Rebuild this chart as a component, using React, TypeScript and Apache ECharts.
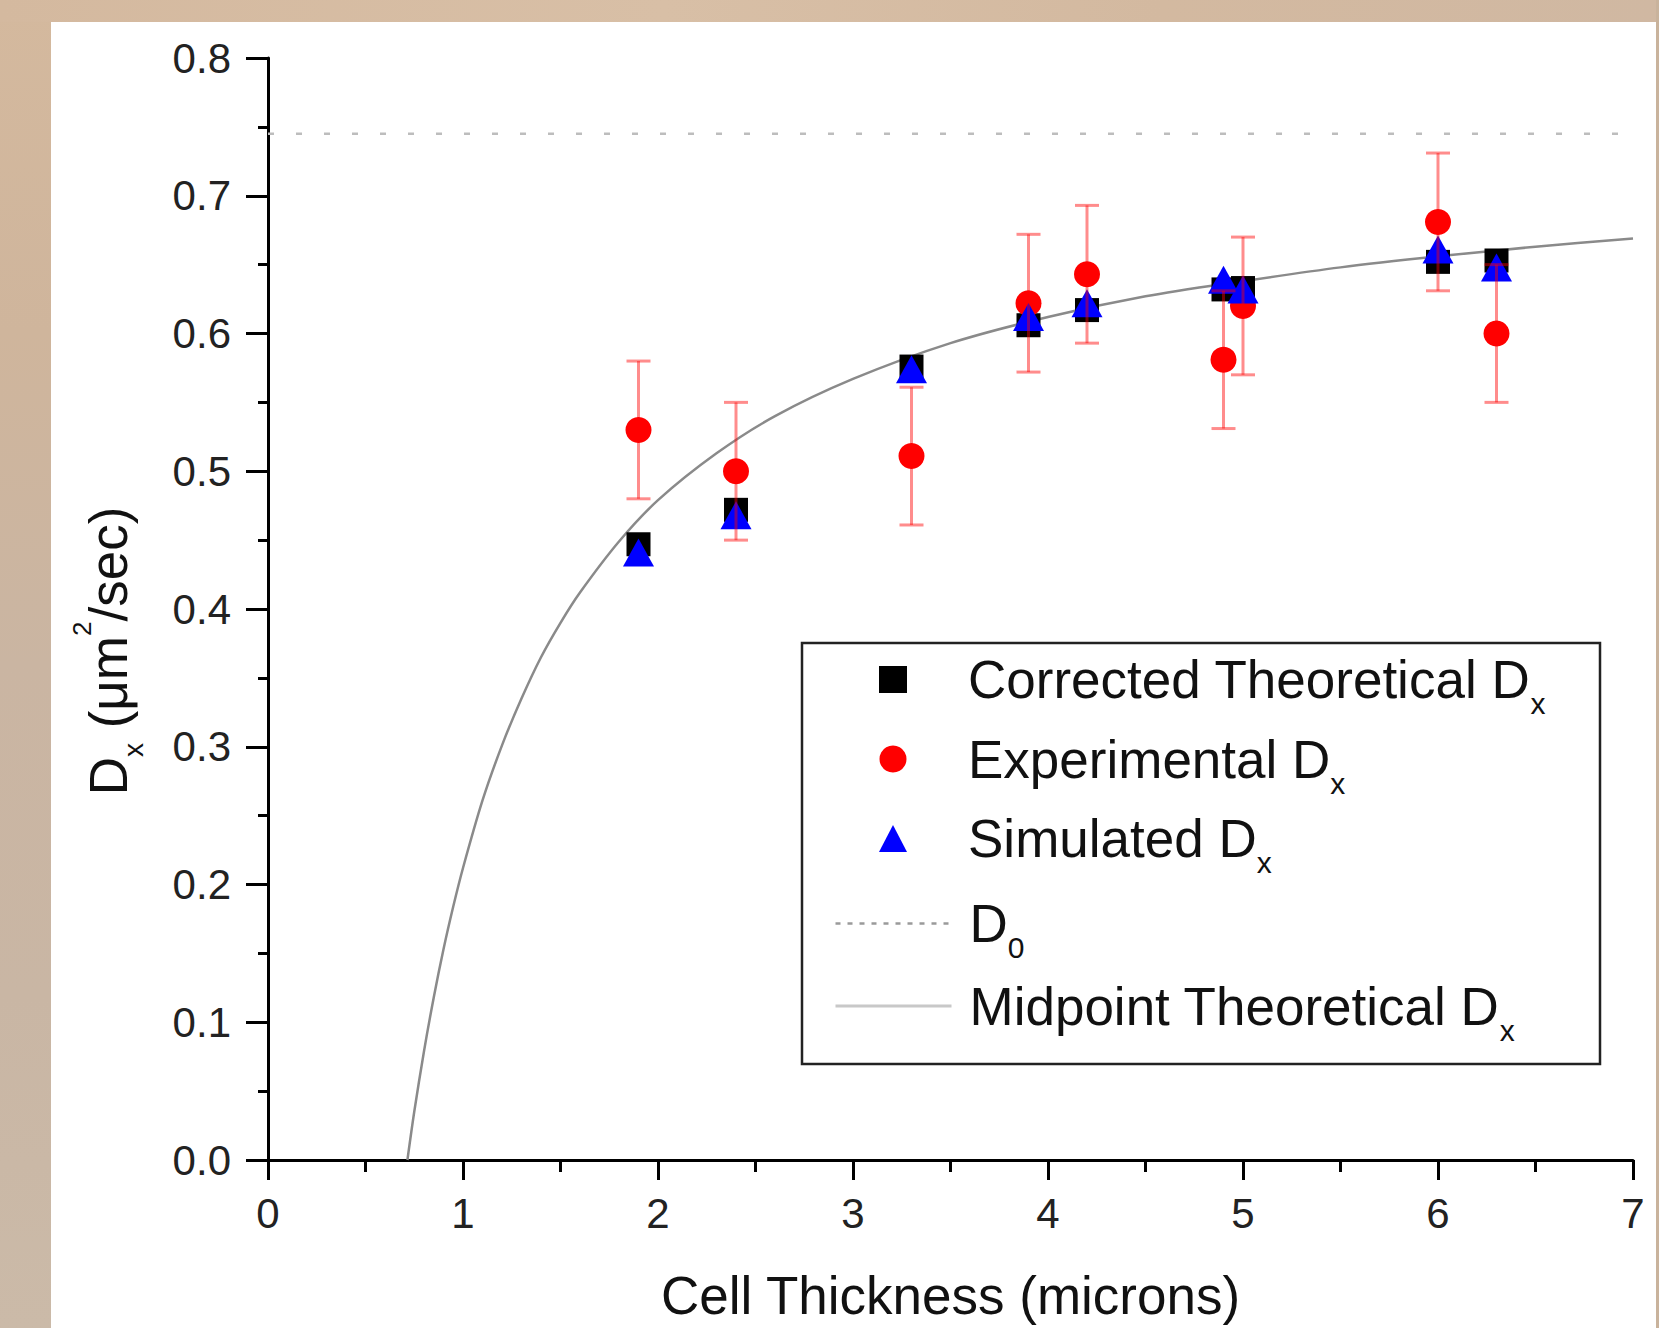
import React, { useEffect, useRef } from 'react';
import * as echarts from 'echarts';

// ---- data ----
const thickness = [1.9, 2.4, 3.3, 3.9, 4.2, 4.9, 5.0, 6.0, 6.3];
const correctedDx = [0.447, 0.472, 0.576, 0.606, 0.617, 0.632, 0.633, 0.652, 0.653];
const experimentalDx = [0.53, 0.5, 0.511, 0.622, 0.643, 0.581, 0.62, 0.681, 0.6];
const experimentalErr = [0.05, 0.05, 0.05, 0.05, 0.05, 0.05, 0.05, 0.05, 0.05];
const simulatedDx = [0.441, 0.468, 0.574, 0.612, 0.622, 0.639, 0.632, 0.661, 0.648];
const d0Value = 0.745;
const d0Range = [0, 7];
const midpointX = [0.715, 0.75, 0.8, 0.85, 0.9, 0.95, 1.0, 1.1, 1.2, 1.3, 1.4, 1.5, 1.6, 1.8, 2.0, 2.3, 2.6, 3.0, 3.5, 4.0, 4.5, 5.0, 5.5, 6.0, 6.5, 7.0];
const midpointY = [0, 0.035, 0.079, 0.118, 0.153, 0.184, 0.212, 0.261, 0.301, 0.335, 0.365, 0.39, 0.412, 0.449, 0.479, 0.513, 0.54, 0.567, 0.593, 0.612, 0.627, 0.638, 0.648, 0.656, 0.663, 0.669];

const seriesNames = [
  'Corrected Theoretical Dx',
  'Experimental Dx',
  'Simulated Dx',
  'D0',
  'Midpoint Theoretical Dx',
];
const legendLabels = [
  'Corrected Theoretical D{sub|x}',
  'Experimental D{sub|x}',
  'Simulated D{sub|x}',
  'D{sub|0}',
  'Midpoint Theoretical D{sub|x}',
];
const xTitle = 'Cell Thickness (microns)';
const yTitle = 'D{sub|x} (μm{sup|2}/sec)';

const FONT = "'Liberation Sans', Arial, Helvetica, sans-serif";

const legendText = (padLeft: number) => ({
  fontFamily: FONT,
  fontSize: 53,
  color: '#111',
  padding: [0, 0, 0, padLeft],
  rich: {
    sub: { fontFamily: FONT, fontSize: 30, color: '#111', padding: [48, 0, 0, 0] },
  },
});

const HIDDEN = 'rgba(0,0,0,0)';

export default function App() {
  const ref = useRef<HTMLDivElement>(null);

  useEffect(() => {
    if (!ref.current) return;
    const chart = echarts.init(ref.current, null, { renderer: 'svg' });

    const pts = (ys: number[]) => thickness.map((x, i) => [x, ys[i]]);
    const fmt = (name: string) => legendLabels[seriesNames.indexOf(name)];

    const option: any = {
      animation: false,
      backgroundColor: '#ffffff',
      textStyle: { fontFamily: FONT },
      graphic: [
        {
          type: 'rect',
          shape: { x: 0, y: 0, width: 51, height: 1328 },
          style: {
            fill: new echarts.graphic.LinearGradient(0, 0, 0, 1, [
              { offset: 0, color: '#d4b99e' },
              { offset: 0.25, color: '#cfb59c' },
              { offset: 0.5, color: '#cab5a2' },
              { offset: 0.75, color: '#c9b6a4' },
              { offset: 1, color: '#cbbaa8' },
            ]),
          },
          silent: true,
        },
        {
          type: 'rect',
          shape: { x: 0, y: 0, width: 1659, height: 22 },
          style: {
            fill: new echarts.graphic.LinearGradient(0, 0, 1, 0, [
              { offset: 0, color: '#d4b99f' },
              { offset: 0.4, color: '#d8bfa6' },
              { offset: 0.7, color: '#d3b9a0' },
              { offset: 1, color: '#d0b8a2' },
            ]),
          },
          silent: true,
        },
        {
          type: 'rect',
          shape: { x: 1656, y: 0, width: 3, height: 1328 },
          style: { fill: '#c9b39c' },
          silent: true,
        },
        {
          type: 'rect',
          shape: { x: 802, y: 643, width: 798, height: 421 },
          style: { fill: 'none', stroke: '#222', lineWidth: 2.5 },
          silent: true,
        },
      ],
      grid: { left: 268, top: 58, width: 1365, height: 1104, containLabel: false },
      legend: [
        {
          orient: 'vertical',
          left: 879,
          top: 653,
          padding: 0,
          itemWidth: 28,
          itemHeight: 27,
          itemGap: 14,
          selectedMode: false,
          formatter: fmt,
          textStyle: legendText(56),
          data: [{ name: seriesNames[0] }, { name: seriesNames[1] }, { name: seriesNames[2] }],
        },
        {
          orient: 'vertical',
          left: 834,
          top: 897,
          padding: 0,
          itemWidth: 116,
          itemHeight: 27,
          itemGap: 17,
          selectedMode: false,
          formatter: fmt,
          textStyle: legendText(13),
          data: [
            {
              name: seriesNames[3],
              itemStyle: { color: HIDDEN, borderColor: HIDDEN, borderWidth: 0 },
              lineStyle: { color: '#9a9a9a', width: 2.5, type: [5, 7] },
            },
            {
              name: seriesNames[4],
              itemStyle: { color: HIDDEN, borderColor: HIDDEN, borderWidth: 0 },
              lineStyle: { color: '#c8c8c8', width: 3 },
            },
          ],
        },
      ],
      xAxis: {
        type: 'value',
        min: 0,
        max: 7,
        interval: 1,
        name: xTitle,
        nameLocation: 'middle',
        nameGap: 107,
        nameTextStyle: { fontFamily: FONT, fontSize: 53, color: '#111', lineHeight: 56 },
        axisLine: { show: true, onZero: false, lineStyle: { color: '#000', width: 3 } },
        axisTick: { show: true, length: 20, lineStyle: { color: '#000', width: 3 } },
        minorTick: { show: true, splitNumber: 2, length: 12, lineStyle: { color: '#000', width: 3 } },
        axisLabel: { fontFamily: FONT, fontSize: 42, color: '#222', margin: 32 },
        splitLine: { show: false },
        minorSplitLine: { show: false },
      },
      yAxis: {
        type: 'value',
        min: 0,
        max: 0.8,
        interval: 0.1,
        name: yTitle,
        nameLocation: 'middle',
        nameRotate: 90,
        nameGap: 132,
        nameTextStyle: {
          fontFamily: FONT,
          fontSize: 53,
          color: '#111',
          lineHeight: 56,
          padding: [0, 84, 0, 0],
          rich: {
            sub: { fontFamily: FONT, fontSize: 28, color: '#111', lineHeight: 56, padding: [50, 0, 0, 0] },
            sup: { fontFamily: FONT, fontSize: 26, color: '#111', lineHeight: 56, padding: [0, 0, 52, 0] },
          },
        },
        axisLine: { show: true, onZero: false, lineStyle: { color: '#000', width: 3 } },
        axisTick: { show: true, length: 22, lineStyle: { color: '#000', width: 3 } },
        minorTick: { show: true, splitNumber: 2, length: 10, lineStyle: { color: '#000', width: 3 } },
        axisLabel: {
          fontFamily: FONT,
          fontSize: 42,
          color: '#222',
          margin: 37,
          padding: [0, 0, 10, 0],
          formatter: (v: number) => v.toFixed(1),
        },
        splitLine: { show: false },
        minorSplitLine: { show: false },
      },
      series: [
        {
          name: seriesNames[3],
          type: 'line',
          data: d0Range.map((x) => [x, d0Value]),
          symbol: 'none',
          itemStyle: { color: '#9a9a9a' },
          lineStyle: { color: '#bdbdbd', width: 2.5, type: [6, 22] },
          z: 1,
          silent: true,
        },
        {
          name: seriesNames[4],
          type: 'line',
          data: midpointX.map((x, i) => [x, midpointY[i]]),
          symbol: 'none',
          smooth: 0.3,
          itemStyle: { color: '#8a8a8a' },
          lineStyle: { color: '#8a8a8a', width: 2.5 },
          z: 1,
          silent: true,
        },
        {
          name: seriesNames[0],
          type: 'scatter',
          data: pts(correctedDx),
          symbol: 'rect',
          symbolSize: 24,
          itemStyle: { color: '#000', opacity: 1 },
          z: 2,
        },
        {
          name: seriesNames[1],
          type: 'scatter',
          data: pts(experimentalDx),
          symbol: 'circle',
          symbolSize: 26,
          itemStyle: { color: '#ff0000', opacity: 1 },
          z: 3,
        },
        {
          name: seriesNames[2],
          type: 'scatter',
          data: pts(simulatedDx),
          symbol: 'triangle',
          symbolSize: [31, 28],
          itemStyle: { color: '#0000ff', opacity: 1 },
          z: 4,
        },
        {
          name: 'Experimental error',
          type: 'custom',
          silent: true,
          z: 5,
          data: thickness.map((x, i) => [
            x,
            experimentalDx[i] - experimentalErr[i],
            experimentalDx[i] + experimentalErr[i],
          ]),
          encode: { x: 0, y: [1, 2] },
          renderItem: (params: any, api: any) => {
            const x = api.value(0);
            const lo = api.coord([x, api.value(1)]);
            const hi = api.coord([x, api.value(2)]);
            const w = 12;
            const style = { stroke: 'rgba(255,0,0,0.45)', lineWidth: 3 };
            return {
              type: 'group',
              children: [
                { type: 'line', shape: { x1: lo[0], y1: lo[1], x2: hi[0], y2: hi[1] }, style },
                { type: 'line', shape: { x1: lo[0] - w, y1: lo[1], x2: lo[0] + w, y2: lo[1] }, style },
                { type: 'line', shape: { x1: hi[0] - w, y1: hi[1], x2: hi[0] + w, y2: hi[1] }, style },
              ],
            };
          },
        },
      ],
    };

    chart.setOption(option);
    return () => chart.dispose();
  }, []);

  return (
    <div
      ref={ref}
      style={{ position: 'fixed', left: 0, top: 0, width: 1659, height: 1328 }}
    />
  );
}
